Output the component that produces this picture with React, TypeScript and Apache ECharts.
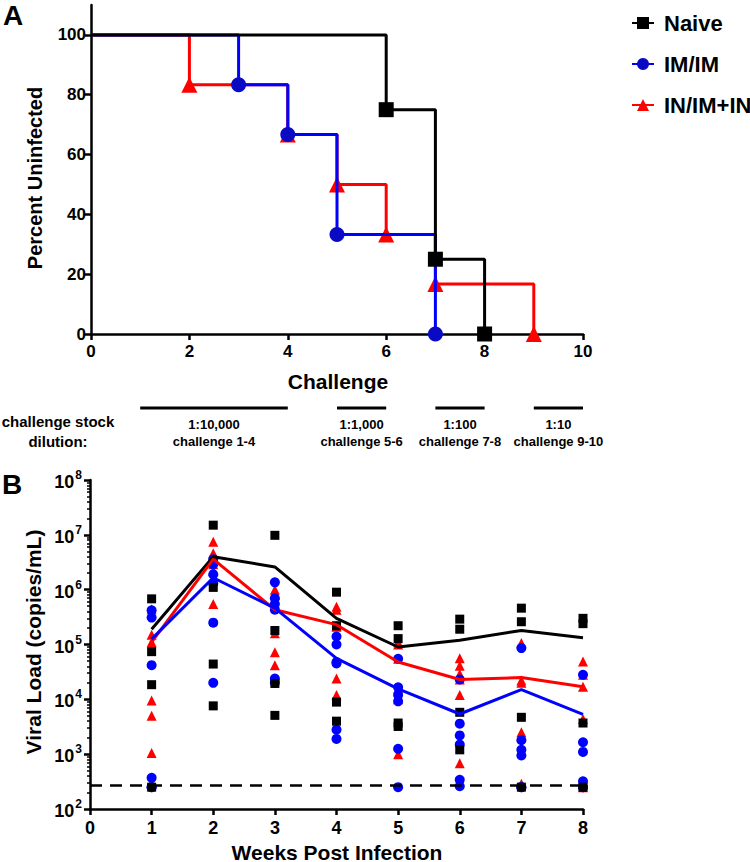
import React, { useEffect, useRef } from "react";
import * as echarts from "echarts";

// ---------- Panel A : survival (percent uninfected) ----------
const challengeTicks = [0, 2, 4, 6, 8, 10];
const percentTicks = [0, 20, 40, 60, 80, 100];
const naiveSurv: number[][] = [[0, 100], [6, 75], [7, 25], [8, 0]];
const imSurv: number[][] = [[0, 100], [3, 83.3], [4, 66.7], [5, 33.3], [7, 0]];
const inSurv: number[][] = [[0, 100], [2, 83.3], [4, 66.7], [5, 50], [6, 33.3], [7, 16.7], [9, 0]];

// challenge stock dilution annotation
const dilutionRanges: number[][] = [[1, 4], [5, 6], [7, 8], [9, 10]];
const dilutionRatios = ["1:10,000", "1:1,000", "1:100", "1:10"];
const dilutionChallenges = ["challenge 1-4", "challenge 5-6", "challenge 7-8", "challenge 9-10"];

// ---------- Panel B : viral load ----------
const weeks = [1, 2, 3, 4, 5, 6, 7, 8];
const vlTicks = [1e2, 1e3, 1e4, 1e5, 1e6, 1e7, 1e8];
const vlMinorTicks = [
  200, 300, 400, 500, 600, 700, 800, 900,
  2e3, 3e3, 4e3, 5e3, 6e3, 7e3, 8e3, 9e3,
  2e4, 3e4, 4e4, 5e4, 6e4, 7e4, 8e4, 9e4,
  2e5, 3e5, 4e5, 5e5, 6e5, 7e5, 8e5, 9e5,
  2e6, 3e6, 4e6, 5e6, 6e6, 7e6, 8e6, 9e6,
  2e7, 3e7, 4e7, 5e7, 6e7, 7e7, 8e7, 9e7,
];
const detectionLimit = 275;

const naiveMean = [1.9e5, 4.0e6, 2.6e6, 3.0e5, 9.0e4, 1.2e5, 1.8e5, 1.33e5];
const imMean = [1.25e5, 1.65e6, 4.6e5, 5.6e4, 1.55e4, 5.4e3, 1.5e4, 5.3e3];
const inMean = [1.1e5, 3.6e6, 4.3e5, 2.3e5, 4.8e4, 2.3e4, 2.5e4, 1.7e4];

const naiveVL = [
  [6.8e5, 7.4e4, 1.85e4, 250],
  [1.5e7, 1.1e6, 4.4e4, 7.6e3],
  [9.8e6, 1.8e5, 1.95e4, 5.1e3],
  [9.0e5, 2.2e5, 8.9e3, 4.0e3],
  [2.2e5, 1.28e5, 3.7e3, 3.2e3],
  [2.9e5, 1.9e5, 5.8e3, 1.2e3],
  [4.6e5, 2.6e5, 4.7e3, 250],
  [3.0e5, 2.4e5, 3.7e3, 250],
];
const imVL = [
  [4.2e5, 3.1e5, 4.2e4, 370, 250, 250],
  [3.6e6, 2.9e6, 1.9e6, 1.3e6, 2.5e5, 2.0e4],
  [1.36e6, 7.0e5, 5.5e5, 4.3e5, 2.4e4, 2.0e4],
  [1.4e5, 1.0e5, 4.8e4, 4.5e4, 2.8e3, 1.9e3],
  [5.5e4, 1.66e4, 1.2e4, 9.2e3, 1.25e3, 250],
  [2.3e4, 3.6e3, 2.2e3, 1.5e3, 340, 260],
  [8.6e4, 1.8e3, 1.2e3, 950, 250, 250],
  [2.8e4, 1.65e3, 1.1e3, 320, 250, 250],
];
const inVL = [
  [4.4e5, 1.5e5, 1.1e5, 9.5e3, 5.0e3, 1.05e3],
  [7.5e6, 4.6e6, 3.8e6, 2.9e6, 2.2e6, 5.5e5],
  [1.0e6, 8.0e5, 5.0e5, 1.6e5, 7.2e4, 4.2e4],
  [4.9e5, 4.3e5, 2.2e5, 2.1e5, 2.4e4, 1.2e4],
  [1.1e5, 1.0e5, 5.5e4, 1.6e4, 1.0e4, 1.0e3],
  [5.6e4, 4.1e4, 2.9e4, 2.3e4, 1.2e4, 680],
  [1.07e5, 2.2e4, 2.0e4, 2.5e3, 2.2e3, 290],
  [4.9e4, 2.8e4, 1.7e4, 4.4e3, 300, 250],
];

const FONT = "'Liberation Sans', Arial, Helvetica, sans-serif";
const BLACK = "#000000";
const BLUE = "#0000ff";
const BLUE_DARK = "#0a0ac4";
const RED = "#ff0000";

function survSeries(name: string, data: number[][], color: string, mColor: string, symbol: string, z: number) {
  return {
    type: "line",
    name,
    xAxisIndex: 0,
    yAxisIndex: 0,
    step: "end",
    data: data.map((p, i) => (i === 0 ? { value: p, symbol: "none" } : { value: p })),
    symbol,
    symbolSize: symbol === "triangle" ? 16 : 15,
    showAllSymbol: true,
    clip: false,
    z,
    lineStyle: { color, width: 3 },
    itemStyle: { color: mColor },
  };
}

function points(vals: number[][]) {
  const out: number[][] = [];
  weeks.forEach((w, i) => vals[i].forEach((v) => out.push([w, v])));
  return out;
}

function scatterSeries(name: string, vals: number[][], color: string, symbol: string, size: number, z: number) {
  return {
    type: "scatter",
    name,
    xAxisIndex: 1,
    yAxisIndex: 1,
    data: points(vals),
    symbol,
    symbolSize: size,
    itemStyle: { color, opacity: 1 },
    z,
  };
}

function meanSeries(name: string, vals: number[], color: string, z: number, extra: any = {}) {
  return {
    type: "line",
    name,
    xAxisIndex: 1,
    yAxisIndex: 1,
    data: weeks.map((w, i) => [w, vals[i]]),
    symbol: "none",
    lineStyle: { color, width: 3 },
    itemStyle: { color },
    z,
    ...extra,
  };
}

const axisLineStyle = { color: BLACK, width: 2.5 };
const tickLabel = (size: number, margin: number) => ({
  color: BLACK,
  fontSize: size,
  fontWeight: "bold",
  fontFamily: FONT,
  margin,
});

function txt(text: string, x: number, y: number, size: number, rotation = 0, align = "center") {
  return {
    type: "text",
    x,
    y,
    rotation,
    z: 100,
    style: {
      text,
      fontSize: size,
      fontWeight: "bold",
      fontFamily: FONT,
      fill: BLACK,
      align,
      verticalAlign: "middle",
    },
  };
}

const option: any = {
  animation: false,
  backgroundColor: "#ffffff",
  legend: {
    data: ["Naive", "IM/IM", "IN/IM+IN"],
    orient: "vertical",
    left: 626,
    top: 6,
    itemWidth: 22,
    itemHeight: 15,
    itemGap: 17,
    selectedMode: false,
    textStyle: {
      color: BLACK,
      fontSize: 22,
      fontWeight: "bold",
      fontFamily: FONT,
      lineHeight: 24,
      padding: [0, 0, 0, 5],
    },
  },
  grid: [
    { left: 91, top: 5, width: 492, height: 329 },
    { left: 90, top: 480, width: 493, height: 329 },
  ],
  xAxis: [
    {
      type: "value",
      gridIndex: 0,
      min: 0,
      max: 10,
      interval: 2,
      axisLine: { lineStyle: axisLineStyle },
      axisTick: { length: 6, lineStyle: axisLineStyle, customValues: challengeTicks },
      axisLabel: { ...tickLabel(17, 9), customValues: challengeTicks },
      splitLine: { show: false },
    },
    {
      type: "value",
      gridIndex: 1,
      min: 0,
      max: 8,
      interval: 1,
      axisLine: { lineStyle: axisLineStyle },
      axisTick: { length: 6, lineStyle: axisLineStyle },
      axisLabel: tickLabel(18, 10),
      splitLine: { show: false },
    },
  ],
  yAxis: [
    {
      type: "value",
      gridIndex: 0,
      min: 0,
      max: 110,
      interval: 20,
      axisLine: { show: true, lineStyle: axisLineStyle },
      axisTick: { show: true, length: 6, lineStyle: axisLineStyle, customValues: percentTicks },
      axisLabel: { ...tickLabel(17, 5), customValues: percentTicks },
      splitLine: { show: false },
    },
    {
      type: "log",
      logBase: 10,
      gridIndex: 1,
      position: "left",
      min: 1e2,
      max: 1e8,
      axisLine: { show: true, lineStyle: axisLineStyle },
      axisTick: { show: true, length: 6, lineStyle: axisLineStyle, customValues: vlTicks },
      axisLabel: {
        color: BLACK,
        margin: 8,
        customValues: vlTicks,
        formatter: (v: number) => `{b|10}{s|${Math.round(Math.log10(v))}}`,
        rich: {
          b: { fontSize: 18, fontWeight: "bold", fontFamily: FONT, color: BLACK, lineHeight: 22, verticalAlign: "bottom" },
          s: { fontSize: 12, fontWeight: "bold", fontFamily: FONT, color: BLACK, lineHeight: 12, verticalAlign: "top", padding: [0, 0, 0, 1] },
        },
      },
      splitLine: { show: false },
    },
    {
      type: "log",
      logBase: 10,
      gridIndex: 1,
      position: "left",
      offset: 0,
      min: 1e2,
      max: 1e8,
      axisLine: { show: false },
      axisTick: { show: true, length: 3, lineStyle: { color: BLACK, width: 1.5 }, customValues: vlMinorTicks },
      axisLabel: { show: false },
      splitLine: { show: false },
    },
  ],
  series: [
    survSeries("IN/IM+IN", inSurv, RED, RED, "triangle", 3),
    survSeries("IM/IM", imSurv, BLUE, BLUE_DARK, "circle", 4),
    survSeries("Naive", naiveSurv, BLACK, BLACK, "rect", 5),

    scatterSeries("IN/IM+IN VL", inVL, RED, "triangle", 10, 2),
    scatterSeries("IM/IM VL", imVL, BLUE, "circle", 10, 3),
    scatterSeries("Naive VL", naiveVL, BLACK, "rect", 9, 4),

    meanSeries("Naive mean", naiveMean, BLACK, 6, {
      markLine: {
        silent: true,
        symbol: "none",
        label: { show: false },
        lineStyle: { color: BLACK, width: 2.5, type: [12, 8] },
        data: [{ yAxis: detectionLimit }],
      },
    }),
    meanSeries("IN/IM+IN mean", inMean, RED, 6),
    meanSeries("IM/IM mean", imMean, BLUE, 7),
  ],
};

export default function App() {
  const ref = useRef<HTMLDivElement>(null);
  useEffect(() => {
    document.body.style.margin = "0";
    const chart = echarts.init(ref.current!, null, { renderer: "svg" });
    chart.setOption(option);

    const graphics: any[] = [
      txt("A", 13, 15, 28),
      txt("B", 12, 484, 28),
      txt("Percent Uninfected", 35, 178, 20, Math.PI / 2),
      txt("Challenge", 338, 381, 21),
      txt("Viral Load (copies/mL)", 33, 642, 21, Math.PI / 2),
      txt("Weeks Post Infection", 337, 852, 21),
      txt("challenge stock", 58, 421, 15),
      txt("dilution:", 58, 441, 15),
    ];
    dilutionRanges.forEach(([a, b], i) => {
      const x1 = chart.convertToPixel({ xAxisIndex: 0 }, a) as number;
      const x2 = chart.convertToPixel({ xAxisIndex: 0 }, b) as number;
      const mid = (x1 + x2) / 2;
      graphics.push({
        type: "line",
        z: 100,
        shape: { x1, y1: 408, x2, y2: 408 },
        style: { stroke: BLACK, lineWidth: 3 },
      });
      graphics.push(txt(dilutionRatios[i], mid, 424, 13));
      graphics.push(txt(dilutionChallenges[i], mid, 441, 13));
    });
    chart.setOption({ graphic: graphics });
    return () => chart.dispose();
  }, []);
  return <div ref={ref} style={{ width: 750, height: 862 }} />;
}
